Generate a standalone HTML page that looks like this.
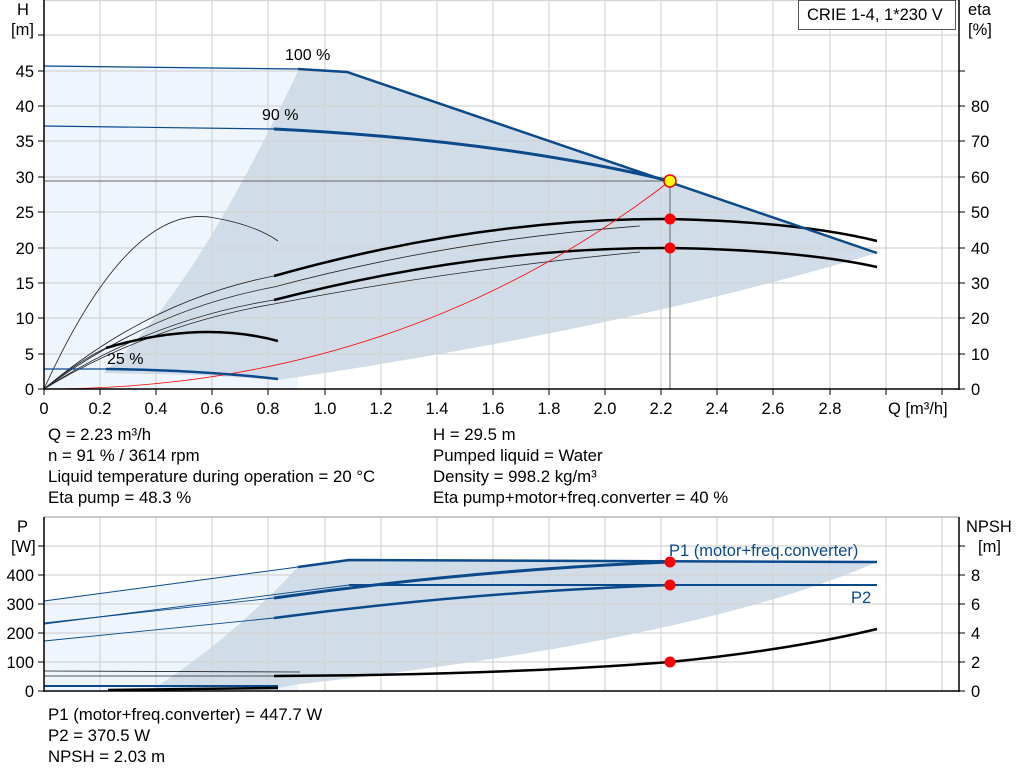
<!DOCTYPE html>
<html><head><meta charset="utf-8"><style>
body{margin:0;background:#fff}
svg{display:block;font-family:"Liberation Sans",Arial,sans-serif}
</style></head><body>
<svg width="1024" height="781" viewBox="0 0 1024 781" xmlns="http://www.w3.org/2000/svg">
<!-- TOP CHART -->
<path d="M44,65 L298,68 L298,389 L44,389Z" fill="#eef5fc"/>
<path d="M103,373 Q190,300 298,71 L347,72 L877,253 Q620,330 278,380 L200,375Z" fill="#d0dce8"/>
<g stroke="#d4d4d4" stroke-width="1.2">
<line x1="100" y1="0" x2="100" y2="389"/><line x1="156" y1="0" x2="156" y2="389"/><line x1="212" y1="0" x2="212" y2="389"/><line x1="268" y1="0" x2="268" y2="389"/><line x1="325" y1="0" x2="325" y2="389"/><line x1="381" y1="0" x2="381" y2="389"/><line x1="437" y1="0" x2="437" y2="389"/><line x1="493" y1="0" x2="493" y2="389"/><line x1="549" y1="0" x2="549" y2="389"/><line x1="605" y1="0" x2="605" y2="389"/><line x1="661" y1="0" x2="661" y2="389"/><line x1="717" y1="0" x2="717" y2="389"/><line x1="773" y1="0" x2="773" y2="389"/><line x1="830" y1="0" x2="830" y2="389"/><line x1="886" y1="0" x2="886" y2="389"/><line x1="942" y1="0" x2="942" y2="389"/>
<line x1="44" y1="354" x2="959" y2="354"/><line x1="44" y1="318" x2="959" y2="318"/><line x1="44" y1="283" x2="959" y2="283"/><line x1="44" y1="248" x2="959" y2="248"/><line x1="44" y1="212" x2="959" y2="212"/><line x1="44" y1="177" x2="959" y2="177"/><line x1="44" y1="141" x2="959" y2="141"/><line x1="44" y1="106" x2="959" y2="106"/><line x1="44" y1="71" x2="959" y2="71"/><line x1="44" y1="35" x2="959" y2="35"/><line x1="44" y1="0.5" x2="959" y2="0.5"/>
</g>
<line x1="44" y1="181" x2="670" y2="181" stroke="#666" stroke-width="1"/>
<line x1="670" y1="181" x2="670" y2="389" stroke="#666" stroke-width="1"/>
<g fill="none" stroke="#222" stroke-width="0.8">
<path d="M44,389 Q130,200 215,218 Q255,225 278,241"/>
<path d="M44,389 Q150,300 274,276"/>
<path d="M44,389 Q150,310 274,287 Q450,240 640,226"/>
<path d="M44,389 Q150,320 274,300"/>
<path d="M44,389 Q150,325 274,304 Q450,270 640,252"/>
<path d="M44,389 Q80,360 106,348"/>
</g>
<g fill="none" stroke="#000" stroke-width="2.5">
<path d="M274,276 Q480,218 670,219 Q800,222 877,241"/>
<path d="M274,300 Q480,247 670,248 Q800,250 877,267"/>
<path d="M106,348 Q200,320 278,341"/>
</g>
<path d="M44,389 Q400,389 670,181" fill="none" stroke="#f00" stroke-width="0.8"/>
<g fill="none" stroke="#0b4a8a">
<path d="M44,66 L298,69 L347,72" stroke-width="1.2"/>
<path d="M298,69 L347,72 L877,253" stroke-width="2.5"/>
<path d="M44,126 L274,129" stroke-width="1.2"/>
<path d="M274,129 Q500,140 670,181" stroke-width="3"/>
<path d="M44,369 L106,369" stroke-width="1.2"/>
<path d="M106,369 Q200,370 278,379" stroke-width="2.5"/>
</g>
<circle cx="670" cy="181" r="6" fill="#ff0" stroke="#e00" stroke-width="1.5"/>
<circle cx="670" cy="219" r="5.5" fill="#f00"/>
<circle cx="670" cy="248" r="5.5" fill="#f00"/>
<g font-size="16" fill="#000">
<text x="285" y="60">100 %</text><text x="262" y="120">90 %</text><text x="107" y="364">25 %</text>
</g>
<g stroke="#000" stroke-width="1.5">
<line x1="44" y1="0" x2="44" y2="390"/><line x1="44" y1="389" x2="959" y2="389"/><line x1="959" y1="0" x2="959" y2="390"/>
</g>
<g stroke="#000" stroke-width="1">
<path d="M38,389h6M38,354h6M38,318h6M38,283h6M38,248h6M38,212h6M38,177h6M38,141h6M38,106h6M38,71h6M38,35h6"/>
<path d="M959,389h6M959,354h6M959,318h6M959,283h6M959,248h6M959,212h6M959,177h6M959,141h6M959,106h6M959,71h6"/>
<path d="M44,389v6M100,389v6M156,389v6M212,389v6M268,389v6M325,389v6M381,389v6M437,389v6M493,389v6M549,389v6M605,389v6M661,389v6M717,389v6M773,389v6M830,389v6M886,389v6M942,389v6"/>
</g>
<g font-size="16.5" text-anchor="end">
<text x="34" y="395">0</text><text x="34" y="360">5</text><text x="34" y="324">10</text><text x="34" y="289">15</text><text x="34" y="254">20</text><text x="34" y="218">25</text><text x="34" y="183">30</text><text x="34" y="147">35</text><text x="34" y="112">40</text><text x="34" y="77">45</text>
</g>
<g font-size="16.5">
<text x="971" y="395">0</text><text x="971" y="360">10</text><text x="971" y="324">20</text><text x="971" y="289">30</text><text x="971" y="254">40</text><text x="971" y="218">50</text><text x="971" y="183">60</text><text x="971" y="147">70</text><text x="971" y="112">80</text>
<text x="968" y="15">eta</text><text x="968" y="35">[%]</text>
<text x="17" y="15">H</text><text x="11" y="35">[m]</text>
</g>
<g font-size="16.5" text-anchor="middle">
<text x="44" y="414">0</text><text x="100" y="414">0.2</text><text x="156" y="414">0.4</text><text x="212" y="414">0.6</text><text x="268" y="414">0.8</text><text x="325" y="414">1.0</text><text x="381" y="414">1.2</text><text x="437" y="414">1.4</text><text x="493" y="414">1.6</text><text x="549" y="414">1.8</text><text x="605" y="414">2.0</text><text x="661" y="414">2.2</text><text x="717" y="414">2.4</text><text x="773" y="414">2.6</text><text x="830" y="414">2.8</text>
</g>
<text x="888" y="414" font-size="16.5">Q [m³/h]</text>
<rect x="798.5" y="0.5" width="157" height="29" fill="#fff" stroke="#555"/>
<text x="807" y="20" font-size="16.5">CRIE 1-4, 1*230 V</text>
<g font-size="16.8">
<text x="48" y="440">Q = 2.23 m³/h</text><text x="48" y="461">n = 91 % / 3614 rpm</text><text x="48" y="482">Liquid temperature during operation = 20 °C</text><text x="48" y="503">Eta pump = 48.3 %</text>
<text x="433" y="440">H = 29.5 m</text><text x="433" y="461">Pumped liquid = Water</text><text x="433" y="482">Density = 998.2 kg/m³</text><text x="433" y="503">Eta pump+motor+freq.converter = 40 %</text>
</g>
<!-- BOTTOM CHART -->
<path d="M44,600 L298,567 L298,691 L44,691Z" fill="#eef5fc"/>
<path d="M150,691 Q230,640 298,567 L349,560 L877,562 Q700,640 300,684 L278,688Z" fill="#d0dce8"/>
<g stroke="#d4d4d4" stroke-width="1.2">
<line x1="100" y1="517" x2="100" y2="691"/><line x1="156" y1="517" x2="156" y2="691"/><line x1="212" y1="517" x2="212" y2="691"/><line x1="268" y1="517" x2="268" y2="691"/><line x1="325" y1="517" x2="325" y2="691"/><line x1="381" y1="517" x2="381" y2="691"/><line x1="437" y1="517" x2="437" y2="691"/><line x1="493" y1="517" x2="493" y2="691"/><line x1="549" y1="517" x2="549" y2="691"/><line x1="605" y1="517" x2="605" y2="691"/><line x1="661" y1="517" x2="661" y2="691"/><line x1="717" y1="517" x2="717" y2="691"/><line x1="773" y1="517" x2="773" y2="691"/><line x1="830" y1="517" x2="830" y2="691"/><line x1="886" y1="517" x2="886" y2="691"/><line x1="942" y1="517" x2="942" y2="691"/>
<line x1="44" y1="662" x2="959" y2="662"/><line x1="44" y1="633" x2="959" y2="633"/><line x1="44" y1="604" x2="959" y2="604"/><line x1="44" y1="575" x2="959" y2="575"/><line x1="44" y1="546" x2="959" y2="546"/><line x1="44" y1="517" x2="959" y2="517" stroke="#aaa"/>
</g>
<g fill="none" stroke="#0b4a8a">
<path d="M44,601 L298,567" stroke-width="0.9"/>
<path d="M298,567 L349,560 L877,562" stroke-width="2.5"/>
<path d="M44,623 L274,598" stroke-width="0.9"/>
<path d="M274,598 Q470,570 670,562" stroke-width="3"/>
<path d="M44,624 L349,585" stroke-width="0.9"/>
<path d="M349,585 L877,585" stroke-width="2"/>
<path d="M44,641 L274,618" stroke-width="0.9"/>
<path d="M274,618 Q470,592 670,585" stroke-width="2.5"/>
<path d="M44,686 L278,686" stroke-width="2"/>
</g>
<g fill="none" stroke="#222" stroke-width="0.8">
<path d="M44,671 L300,672"/><path d="M44,676 L274,676"/>
</g>
<g fill="none" stroke="#000" stroke-width="2.5">
<path d="M274,676 Q500,675 670,662 Q790,650 877,629"/>
<path d="M108,690 L278,688"/>
</g>
<circle cx="670" cy="562" r="5.5" fill="#f00"/><circle cx="670" cy="585" r="5.5" fill="#f00"/><circle cx="670" cy="662" r="5.5" fill="#f00"/>
<text x="669" y="556" font-size="16.5" fill="#0b4a8a">P1 (motor+freq.converter)</text>
<text x="851" y="603" font-size="16.5" fill="#0b4a8a">P2</text>
<g stroke="#000" stroke-width="1.5">
<line x1="44" y1="517" x2="44" y2="692"/><line x1="44" y1="691" x2="959" y2="691"/><line x1="959" y1="517" x2="959" y2="692"/>
</g>
<g stroke="#000" stroke-width="1">
<path d="M38,691h6M38,662h6M38,633h6M38,604h6M38,575h6M38,546h6"/>
<path d="M959,691h6M959,662h6M959,633h6M959,604h6M959,575h6M959,546h6"/>
</g>
<g font-size="16.5" text-anchor="end">
<text x="34" y="697">0</text><text x="34" y="668">100</text><text x="34" y="639">200</text><text x="34" y="610">300</text><text x="34" y="581">400</text>
</g>
<g font-size="16.5">
<text x="971" y="697">0</text><text x="971" y="668">2</text><text x="971" y="639">4</text><text x="971" y="610">6</text><text x="971" y="581">8</text>
<text x="966" y="532">NPSH</text><text x="978" y="552">[m]</text>
<text x="17" y="532">P</text><text x="11" y="552">[W]</text>
</g>
<g font-size="16.8">
<text x="48" y="720">P1 (motor+freq.converter) = 447.7 W</text><text x="48" y="741">P2 = 370.5 W</text><text x="48" y="762">NPSH = 2.03 m</text>
</g>
</svg>
</body></html>
